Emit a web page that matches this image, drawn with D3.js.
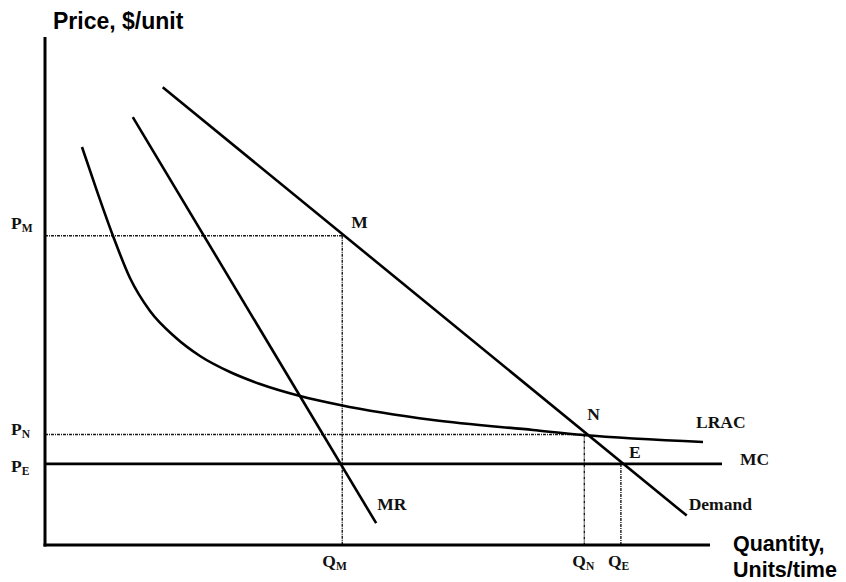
<!DOCTYPE html>
<html>
<head>
<meta charset="utf-8">
<script src="https://cdn.jsdelivr.net/npm/d3@7/dist/d3.min.js"></script>
<style>
  html, body { margin: 0; padding: 0; background: #fff; }
  svg { display: block; }
  .lbl { font-family: "Liberation Serif", "Times New Roman", serif; font-weight: bold; fill: #111; }
  .ax { font-family: "Liberation Sans", Arial, sans-serif; font-weight: bold; fill: #000; }
</style>
</head>
<body>
<svg id="chart" width="846" height="582"></svg>
<script>
// ---- data (quantity 0..100, price 0..100) ----
const demandPts = [[17.7, 90.3], [96.5, 5.8]];
const mrPts = [[13.2, 84.4], [49.8, 4.3]];
const lracPts = [[5.56, 78.5], [7.82, 69.8], [10.23, 60.95], [12.78, 52.66], [15.79, 46.15],
                 [19.55, 41.03], [23.31, 37.28], [27.82, 34.12], [32.33, 31.76], [38.35, 29.39],
                 [44.36, 27.61], [58.35, 24.65], [73.38, 22.68], [80.9, 21.7], [98.95, 20.32]];
const mcLevel = 16.0;
const mcEnd = 101.8;
const priceTicks = [["P", "M", 61.0], ["P", "N", 21.8], ["P", "E", 16.0]];
const qtyTicks = [["Q", "M", 44.7], ["Q", "N", 81.1], ["Q", "E", 86.6]];
const pointLabels = [["M", 44.7, 61.0], ["N", 81.1, 21.8], ["E", 86.6, 16.0]];
const curveLabels = [["LRAC", 98.95, 20.32], ["MC", mcEnd, mcLevel], ["Demand", 96.5, 5.8], ["MR", 49.8, 4.3]];

const svg = d3.select("#chart");
const x = d3.scaleLinear().domain([0, 100]).range([45, 710]);
const y = d3.scaleLinear().domain([0, 100]).range([545, 38]);
const line = d3.line().x(d => x(d[0])).y(d => y(d[1]));

// dotted guide lines
const pm = priceTicks[0][2], pn = priceTicks[1][2];
const qm = qtyTicks[0][2], qn = qtyTicks[1][2], qe = qtyTicks[2][2];
const guides = [
  [[0, pm], [qm, pm]], [[qm, pm], [qm, 0]],
  [[0, pn], [qn, pn]], [[qn, pn], [qn, 0]],
  [[qe, mcLevel], [qe, 0]]
];
svg.selectAll("path.guide").data(guides).enter().append("path")
  .attr("class", "guide").attr("d", line)
  .attr("fill", "none").attr("stroke", "#1a1a1a").attr("stroke-width", 1.4)
  .attr("stroke-dasharray", "3,1,1,1");

// curves
svg.append("path").attr("d", d3.line().x(d => x(d[0])).y(d => y(d[1])).curve(d3.curveMonotoneX)(lracPts))
  .attr("fill", "none").attr("stroke", "#000").attr("stroke-width", 2.6);
svg.append("path").attr("d", line(demandPts)).attr("fill", "none").attr("stroke", "#000").attr("stroke-width", 2.6);
svg.append("path").attr("d", line(mrPts)).attr("fill", "none").attr("stroke", "#000").attr("stroke-width", 2.6);
svg.append("path").attr("d", line([[0, mcLevel], [mcEnd, mcLevel]])).attr("fill", "none").attr("stroke", "#000").attr("stroke-width", 2.6);

// axes
svg.append("line").attr("x1", x(0)).attr("x2", x(0)).attr("y1", 37).attr("y2", y(0) + 1.5)
  .attr("stroke", "#000").attr("stroke-width", 3);
svg.append("line").attr("x1", x(0) - 1.5).attr("x2", x(100)).attr("y1", y(0)).attr("y2", y(0))
  .attr("stroke", "#000").attr("stroke-width", 3);

// axis titles
svg.append("text").attr("class", "ax").attr("x", 53).attr("y", 29).attr("font-size", 23).text("Price, $/unit");
svg.append("text").attr("class", "ax").attr("x", 733).attr("y", 551).attr("font-size", 21.5).text("Quantity,");
svg.append("text").attr("class", "ax").attr("x", 733).attr("y", 577).attr("font-size", 21.5).text("Units/time");

// price tick labels
const pYOff = [-7, 1, 8];
priceTicks.forEach(([m, s, v], i) => {
  const t = svg.append("text").attr("class", "lbl").attr("x", 11).attr("y", y(v) + pYOff[i]).attr("font-size", 17.5);
  t.append("tspan").text(m);
  t.append("tspan").attr("font-size", 11.5).attr("dy", 3).text(s);
});

// quantity tick labels
const qXOff = [-20, -12, -13];
qtyTicks.forEach(([m, s, v], i) => {
  const t = svg.append("text").attr("class", "lbl").attr("x", x(v) + qXOff[i]).attr("y", 567).attr("font-size", 17.5);
  t.append("tspan").text(m);
  t.append("tspan").attr("font-size", 11.5).attr("dy", 3).text(s);
});

// point labels
const pOff = { M: [9, -8], N: [3, -14], E: [8, -6] };
pointLabels.forEach(([n, qx, py]) => {
  svg.append("text").attr("class", "lbl").attr("x", x(qx) + pOff[n][0]).attr("y", y(py) + pOff[n][1])
    .attr("font-size", 17.5).text(n);
});

// curve labels
const cOff = { LRAC: [-7, -14], MC: [18, 1], Demand: [2, -6], MR: [1, -13] };
curveLabels.forEach(([n, qx, py]) => {
  svg.append("text").attr("class", "lbl").attr("x", x(qx) + cOff[n][0]).attr("y", y(py) + cOff[n][1])
    .attr("font-size", 17.5).text(n);
});
</script>
</body>
</html>
